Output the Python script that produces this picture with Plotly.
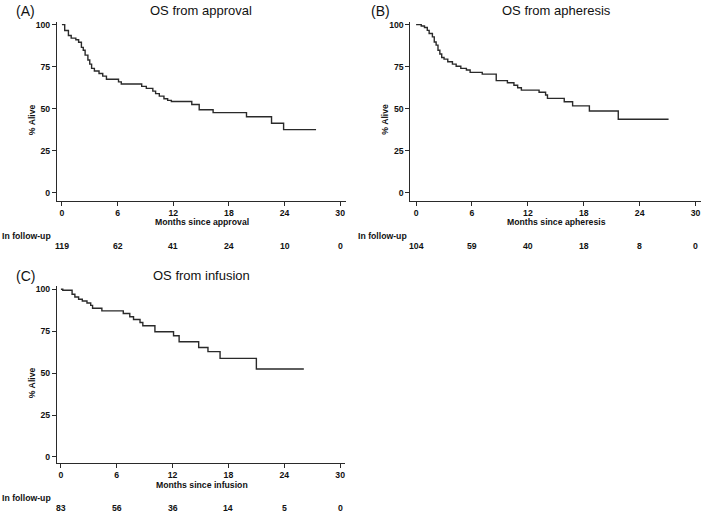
import plotly.graph_objects as go

W, H = 702, 512

# ---- data ----
months_ticks = [0, 6, 12, 18, 24, 30]
pct_ticks = [0, 25, 50, 75, 100]

a_time = [0, 0.3, 0.7, 1.0, 1.5, 1.8, 2.1, 2.3, 2.5, 2.8, 3.0, 3.2, 3.5, 4.0, 4.4, 4.8,
          6.1, 6.4, 8.6, 9.1, 9.8, 10.1, 10.5, 11.0, 11.4, 11.8, 14.0, 14.8, 16.3,
          19.9, 22.6, 23.9, 27.4]
a_surv = [100, 96.5, 93.5, 92, 91, 89.5, 86.5, 84.8, 81.9, 79, 76.5, 74, 72.4, 71, 69.4, 67.5,
          66, 64.7, 63.3, 62.1, 60.5, 59, 57.5, 56, 55, 54.3, 52.5, 49.4, 47.7,
          45.3, 41.4, 37.6, 37.6]
a_risk = [119, 62, 41, 24, 10, 0]

b_time = [0, 0.55, 0.9, 1.2, 1.4, 1.75, 1.95, 2.15, 2.35, 2.55, 2.75, 3.0, 3.4, 3.9, 4.3,
          4.8, 5.4, 5.8, 7.1, 8.6, 9.8, 10.5, 10.9, 11.3, 13.2, 13.9, 14.1, 15.9, 16.8,
          18.6, 21.7, 27.1]
b_surv = [100, 99.2, 98.3, 96.6, 94.7, 92.7, 89.7, 87.8, 84.8, 82.5, 80.5, 79.5, 77.9, 76.5,
          75.3, 74, 73, 71.6, 70.6, 66.7, 65.5, 64, 62.5, 61.1, 59.8, 58.2, 56.2, 54.2, 51.7,
          48.7, 43.8, 43.8]
b_risk = [104, 59, 40, 18, 8, 0]

c_time = [0, 0.2, 1.2, 1.5, 1.9, 2.3, 2.8, 3.2, 3.4, 4.4, 6.7, 7.4, 7.8, 8.5, 8.8, 10.1,
          12.1, 12.7, 14.8, 15.8, 17.1, 21.0, 26.1]
c_surv = [100, 99.4, 97, 95.4, 94, 93, 91.8, 90.4, 88.7, 87.1, 85.5, 83.6, 82, 80.2, 78.2,
          74.7, 72.3, 68.7, 65.3, 62.8, 58.8, 52.5, 52.5]
c_risk = [83, 56, 36, 14, 5, 0]

panels = [
    dict(tag="(A)", title="OS from approval", xlab="Months since approval",
         t=a_time, s=a_surv, risk=a_risk),
    dict(tag="(B)", title="OS from apheresis", xlab="Months since apheresis",
         t=b_time, s=b_surv, risk=b_risk),
    dict(tag="(C)", title="OS from infusion", xlab="Months since infusion",
         t=c_time, s=c_surv, risk=c_risk),
]

# ---- layout geometry (pixels) ----
geo = [
    dict(x0=57, x1=346.7, xr=[-0.54, 30.65], ytop=20, ybot=199.3, yr=[-4.5, 101.6],
         tagx=26, titx=201, topy=9, ylabx=32, xlabx=202, left=0),
    dict(x0=411, x1=702, xr=[-0.61, 30.58], ytop=20, ybot=199.3, yr=[-4.5, 101.6],
         tagx=381, titx=557, topy=9, ylabx=386, xlabx=557, left=357),
    dict(x0=57, x1=345, xr=[-0.43, 30.47], ytop=285, ybot=462.5, yr=[-3.4, 102.0],
         tagx=26, titx=202, topy=275, ylabx=32, xlabx=202, left=0),
]

FONT = "Liberation Sans, Arial, sans-serif"
TXT = "#111111"
LINE = "#2a2a2a"
SMALL = 8.7

fig = go.Figure()
layout = dict(width=W, height=H, margin=dict(l=0, r=0, t=0, b=0),
              paper_bgcolor="white", plot_bgcolor="white", showlegend=False,
              font=dict(family=FONT, color=TXT))
annotations = []

def px(x):
    return x / W

def py(y):
    return 1 - y / H

def bold(s):
    return "<b>" + s + "</b>"

for i, (p, g) in enumerate(zip(panels, geo)):
    k = "" if i == 0 else str(i + 1)
    xa, ya = "x" + k, "y" + k
    fig.add_trace(go.Scatter(x=p["t"], y=p["s"], mode="lines", line_shape="hv",
                             line=dict(color=LINE, width=1.4),
                             xaxis=xa, yaxis=ya, hoverinfo="skip"))
    layout["xaxis" + k] = dict(domain=[px(g["x0"]), px(g["x1"])], range=g["xr"],
                               anchor=ya, tickvals=months_ticks,
                               ticktext=[bold(str(v)) for v in months_ticks],
                               ticks="outside",
                               ticklen=4, tickwidth=1, tickcolor=LINE, showline=True,
                               linecolor=LINE, linewidth=1, showgrid=False, zeroline=False,
                               tickfont=dict(size=SMALL, family=FONT, color=TXT))
    layout["yaxis" + k] = dict(domain=[py(g["ybot"]), py(g["ytop"])], range=g["yr"],
                               anchor=xa, tickvals=pct_ticks,
                               ticktext=[bold(str(v)) for v in pct_ticks],
                               ticks="outside",
                               ticklen=4, tickwidth=1, tickcolor=LINE, showline=True,
                               linecolor=LINE, linewidth=1, showgrid=False, zeroline=False,
                               tickfont=dict(size=SMALL, family=FONT, color=TXT))
    annotations.append(dict(text=p["tag"], x=px(g["tagx"]), y=py(g["topy"]), xref="paper",
                            yref="paper", showarrow=False, xanchor="center", yanchor="middle",
                            font=dict(size=14, family=FONT, color=TXT)))
    annotations.append(dict(text=p["title"], x=px(g["titx"]), y=py(g["topy"]), xref="paper",
                            yref="paper", showarrow=False, xanchor="center", yanchor="middle",
                            font=dict(size=13, family=FONT, color=TXT)))
    mid_y = (g["ytop"] + g["ybot"]) / 2 + 8
    annotations.append(dict(text=bold("% Alive"), x=px(g["ylabx"]), y=py(mid_y), xref="paper",
                            yref="paper", showarrow=False, textangle=-90,
                            xanchor="center", yanchor="middle",
                            font=dict(size=SMALL, family=FONT, color=TXT)))
    annotations.append(dict(text=bold(p["xlab"]), x=px(g["xlabx"]), y=py(g["ybot"] + 22),
                            xref="paper", yref="paper", showarrow=False,
                            xanchor="center", yanchor="middle",
                            font=dict(size=SMALL, family=FONT, color=TXT)))
    annotations.append(dict(text=bold("In follow-up"), x=px(g["left"]), y=py(g["ybot"] + 35.5),
                            xref="paper", yref="paper", showarrow=False,
                            xanchor="left", yanchor="middle",
                            font=dict(size=SMALL, family=FONT, color=TXT)))
    for m, n in zip(months_ticks, p["risk"]):
        annotations.append(dict(text=bold(str(n)), x=m, xref=xa, y=py(g["ybot"] + 45.5),
                                yref="paper", showarrow=False, xanchor="center",
                                yanchor="middle",
                                font=dict(size=SMALL, family=FONT, color=TXT)))

layout["annotations"] = annotations
fig.update_layout(**layout)
fig.write_html("out.html", config={"displayModeBar": False},
               post_script="document.body.style.margin='0';document.body.style.overflow='hidden';")
